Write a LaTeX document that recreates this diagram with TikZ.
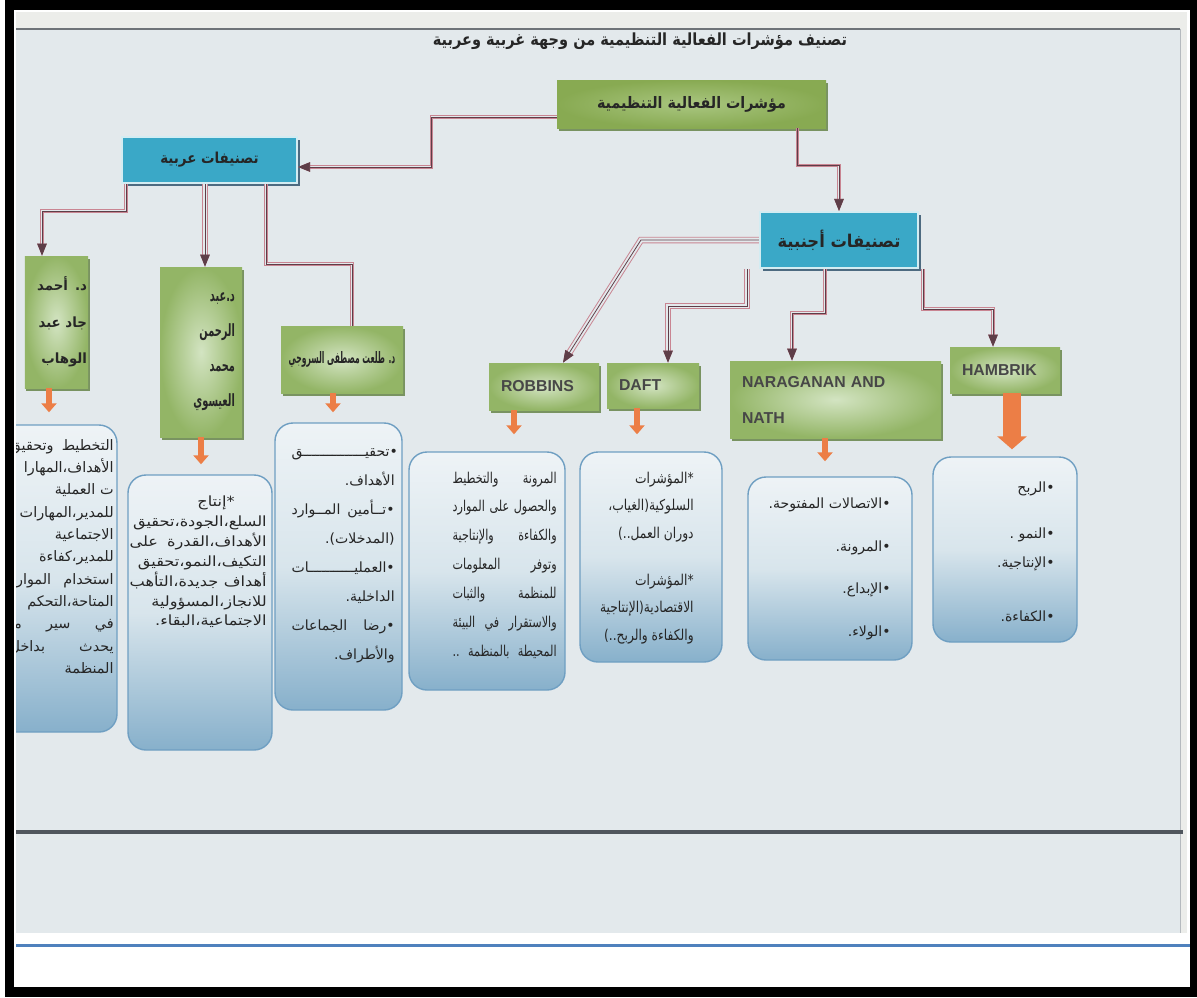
\documentclass[tikz,border=0pt]{standalone}
\usepackage{fontspec}
\setmainfont{Liberation Sans}
\newfontfamily\arabicfont[Script=Arabic]{DejaVu Sans}
\TeXXeTstate=1
\usepackage{tikz}
\usetikzlibrary{positioning, arrows.meta, shadows, calc}
\definecolor{cPage}{HTML}{E3E9EC}
\definecolor{cBand}{HTML}{ECEDEA}
\definecolor{cScanLine}{HTML}{6E7378}
\definecolor{cScanEdge}{HTML}{B5BABE}
\definecolor{cRule}{HTML}{50565D}
\definecolor{cBlueRule}{HTML}{4F81BD}
\definecolor{cInk}{HTML}{262626}
\definecolor{cGreenIn}{HTML}{D3E4C2}
\definecolor{cGreenOut}{HTML}{93B566}
\definecolor{cGreenShade}{HTML}{6E8A52}
\definecolor{cTopIn}{HTML}{A9C680}
\definecolor{cTopOut}{HTML}{88AA52}
\definecolor{cTeal}{HTML}{3AA8C7}
\definecolor{cTealBorder}{HTML}{D3ECF2}
\definecolor{cTealShade}{HTML}{4D6A80}
\definecolor{cBoxTop}{HTML}{EEF3F6}
\definecolor{cBoxMid}{HTML}{D8E5EC}
\definecolor{cBoxBot}{HTML}{87B0CB}
\definecolor{cBoxLine}{HTML}{6F9FC2}
\definecolor{cOrange}{HTML}{EC7E46}
\definecolor{cLink}{HTML}{C98592}
\definecolor{cLinkDark}{HTML}{5E3E48}
% right-to-left line, font is set by the node
\newcommand{\artxt}[1]{\beginR #1\endR}
% justified right-to-left line, as wide as the node text
\newcommand{\jl}[1]{\leavevmode\hbox to \linewidth{\spaceskip=.3em plus 1fil\beginR #1\endR}}
% arabic font: size, baselineskip, horizontal stretch
\newcommand{\arfont}[3]{\arabicfont\addfontfeatures{FakeStretch=#3}\fontsize{#1}{#2}\selectfont}
\newcommand{\arbfont}[3]{\arabicfont\bfseries\addfontfeatures{FakeStretch=#3}\fontsize{#1}{#2}\selectfont}
\tikzset{
  greenbox/.style={inner color=cGreenIn, outer color=cGreenOut, text=cInk,
    drop shadow={shadow xshift=0.3mm, shadow yshift=-0.5mm, fill=cGreenShade, opacity=0.9}},
  topbox/.style={greenbox, inner color=cTopIn, outer color=cTopOut},
  latinbox/.style={greenbox, align=left, inner xsep=2.4mm,
    font=\bfseries\fontsize{9}{20.5}\selectfont, text=cInk!85},
  tealbox/.style={fill=cTeal, draw=cTealBorder, line width=1.2pt, text=cInk,
    drop shadow={shadow xshift=0.6mm, shadow yshift=-0.6mm, fill=cTealShade, opacity=1}},
  contentbox/.style={rounded corners=3.6mm, draw=cBoxLine, line width=0.8pt,
    top color=cBoxTop, bottom color=cBoxBot, middle color=cBoxMid, inner sep=0pt},
  bodytext/.style={align=right, inner sep=0pt, anchor=east, text=cInk},
  linkthin/.style={draw=cLink, double=cPage, double distance=0.9pt, line width=0.55pt,
    postaction={draw=cLinkDark, line width=0.45pt},
    -{Triangle[length=2.4mm, width=1.9mm]}},
  linkwide/.style={linkthin, double distance=2.6pt},
  fatarrow/.style={draw=cOrange, line width=1.2mm, -{Triangle[length=1.8mm, width=3mm]}},
  bigarrow/.style={draw=cOrange, line width=3.6mm, -{Triangle[length=2.6mm, width=5.8mm]}}
}
\begin{document}
\begin{tikzpicture}[x=0.2mm, y=-0.2mm]
\useasboundingbox (0,0) rectangle (1197,997);
% frame and scanned sheet
\fill[white] (0,0) rectangle (1197,997);
\fill[black] (5,0) rectangle (1197,997);
\fill[white] (14,10) rectangle (1190,987);
\fill[cPage] (16,12) rectangle (1187,933);
\fill[cBand] (16,12) rectangle (1187,28);
\fill[cBand] (1180,28) rectangle (1187,933);
\draw[cScanLine, line width=0.3mm] (16,29) -- (1180,29);
\draw[cScanEdge, line width=0.2mm] (1180,29) -- (1180,933);
\draw[cRule, line width=0.9mm] (16,832) -- (1183,832);
\draw[cBlueRule, line width=0.6mm] (16,945) -- (1190,945);
\begin{scope}
\clip (16,12) rectangle (1180,830);
\node[font=\arbfont{9.5}{12}{0.87}, text=cInk] (title) at (640,41)
  {\artxt{تصنيف مؤشرات الفعالية التنظيمية من وجهة غربية وعربية}};
% heads
\node[topbox, minimum width=53.8mm, minimum height=9.6mm, font=\arbfont{9}{11}{0.9}] (top) at (691.5,104) {\artxt{مؤشرات الفعالية التنظيمية}};
\node[tealbox, minimum width=35mm, minimum height=9.2mm, font=\arbfont{8.6}{10}{0.89}] (arabic) at (209.5,160) {\artxt{تصنيفات عربية}};
\node[tealbox, minimum width=31.6mm, minimum height=11.2mm, font=\arbfont{10}{12}{0.93}] (foreign) at (839,240) {\artxt{تصنيفات أجنبية}};
% arabic authors
\node[greenbox, minimum width=12.6mm, minimum height=26.4mm, text width=12.2mm, inner xsep=0.2mm, align=right, font=\arbfont{8}{20.8}{0.95}] (ahmad) at (56.5,322)
  {\artxt{د. أحمد}\\\artxt{جاد عبد}\\\artxt{الوهاب}};
\node[greenbox, minimum width=16.4mm, minimum height=34mm, text width=13.6mm, inner xsep=1.4mm, align=right, font=\arbfont{9.6}{19.9}{0.58}] (abd) at (201,352)
  {\artxt{د.عبد}\\\artxt{الرحمن}\\\artxt{محمد}\\\artxt{العيسوي}};
\node[greenbox, minimum width=24.4mm, minimum height=13.4mm, font=\arbfont{9}{10}{0.48}] (talaat) at (342,359.5)
  {\artxt{د. طلعت مصطفى السروجي}};
% foreign authors
\node[latinbox, minimum width=22mm, minimum height=9.4mm, text width=17.2mm] (robbins) at (544,386.5) {ROBBINS};
\node[latinbox, minimum width=18.4mm, minimum height=9mm, text width=13.6mm] (daft) at (653,385.5) {DAFT};
\node[latinbox, minimum width=42.2mm, minimum height=15.4mm, text width=37.4mm] (nara) at (835.5,399.5) {NARAGANAN AND\\NATH};
\node[latinbox, minimum width=22mm, minimum height=9.2mm, text width=17.2mm] (hambrik) at (1005,370) {HAMBRIK};
% content boxes
\node[contentbox, minimum width=27.4mm, minimum height=61.4mm] (ahmadlist) at (48.5,578.5) {};
\node[bodytext, text width=20.8mm, font=\arfont{8.2}{12.7pt}{1}] (ahmadtxt) at (114,556.5) {\jl{التخطيط وتحقيق}\\\artxt{الأهداف،المهارا}\\\artxt{ت العملية}\\\artxt{للمدير،المهارات}\\\artxt{الاجتماعية}\\\artxt{للمدير،كفاءة}\\\jl{استخدام الموارد}\\\artxt{المتاحة،التحكم}\\\jl{في سير ما}\\\jl{يحدث بداخل}\\\artxt{المنظمة}};
\node[contentbox, minimum width=28.8mm, minimum height=55mm] (abdlist) at (200,612.5) {};
\node[bodytext, text width=27.4mm, font=\arfont{8}{11.3pt}{1.15}] (abdtxt) at (267,562) {\artxt{\hspace*{6.4mm}*إنتاج}\\\artxt{السلع،الجودة،تحقيق}\\\jl{الأهداف،القدرة على}\\\artxt{التكيف،النمو،تحقيق}\\\jl{أهداف جديدة،التأهب}\\\artxt{للانجاز،المسؤولية}\\\artxt{الاجتماعية،البقاء.}};
\node[contentbox, minimum width=25.4mm, minimum height=57.4mm] (talaatlist) at (338.5,566.5) {};
\node[bodytext, text width=20.6mm, font=\arfont{8}{16.5pt}{1}] (talaattxt) at (395,556) {\artxt{•تحقيـــــــــــــــق}\\\artxt{الأهداف.}\\\jl{•تــأمين المــوارد}\\\artxt{(المدخلات).}\\\artxt{•العمليـــــــــــات}\\\artxt{الداخلية.}\\\jl{•رضا الجماعات}\\\artxt{والأطراف.}};
\node[contentbox, minimum width=31.2mm, minimum height=47.6mm] (roblist) at (487,571) {};
\node[bodytext, text width=20.8mm, font=\arfont{8.5}{16.4pt}{0.75}] (robtxt) at (557,565) {\jl{المرونة والتخطيط}\\\jl{والحصول على الموارد}\\\jl{والكفاءة والإنتاجية}\\\jl{وتوفر المعلومات}\\\jl{للمنظمة والثبات}\\\jl{والاستقرار في البيئة}\\\jl{المحيطة بالمنظمة ..}};
\node[contentbox, minimum width=28.4mm, minimum height=42mm] (daftlist) at (651,557) {};
\node[bodytext, font=\arfont{8.5}{15.6pt}{0.82}] (dafttxt) at (694,558) {\artxt{*المؤشرات}\\\artxt{السلوكية(الغياب،}\\\artxt{دوران العمل..)}\\[3.9mm]\artxt{*المؤشرات}\\\artxt{الاقتصادية(الإنتاجية}\\\artxt{والكفاءة والربح..)}};
\node[contentbox, minimum width=32.8mm, minimum height=36.6mm] (naralist) at (830,568.5) {};
\node[bodytext, font=\arfont{8}{24.3pt}{1}] (naratxt) at (891,569) {\artxt{•الاتصالات المفتوحة.}\\\artxt{•المرونة.}\\\artxt{•الإبداع.}\\\artxt{•الولاء.}};
\node[contentbox, minimum width=28.8mm, minimum height=37mm] (hamlist) at (1005,549.5) {};
\node[bodytext, font=\arfont{8}{16.5pt}{1}] (hamtxt) at (1055,551.5) {\artxt{•الربح}\\[3.4mm]\artxt{•النمو .}\\\artxt{•الإنتاجية.}\\[5mm]\artxt{•الكفاءة.}};
% links
\draw[linkthin] ([yshift=-2.6mm]top.west) -- ++(-125,0) |- ([yshift=-1.4mm]arabic.east);
\draw[linkthin] ([xshift=-5.8mm]top.south east) -- ++(0,37) -| (foreign.north);
\draw[linkthin] ([xshift=1mm]arabic.south west) -- ++(0,27) -| ([xshift=-2.9mm]ahmad.north);
\draw[linkwide] ([xshift=0.8mm]abd.north |- arabic.south) -- ([xshift=0.8mm]abd.north);
\draw[linkthin, -] ([xshift=-6.4mm]arabic.south east) -- ++(0,80) -| ([xshift=2mm]talaat.north);
\draw[linkwide] (foreign.west) -- ++(-118,0) -- ([xshift=3.8mm]robbins.north);
\draw[linkwide] ([xshift=-2.4mm]foreign.south west) -- ++(0,37) -| ([xshift=3mm]daft.north);
\draw[linkthin] ([xshift=-2.8mm]foreign.south) -- ++(0,44) -| ([xshift=-8.7mm]nara.north);
\draw[linkthin] ([xshift=0.8mm]foreign.south east) -- ++(0,40) -| ([xshift=-2.4mm]hambrik.north);
% orange arrows
\draw[fatarrow, shorten >=2.4mm] ([xshift=-1.5mm]ahmad.south) -- ([xshift=-1.5mm]ahmad.south |- ahmadlist.north);
\draw[fatarrow, shorten >=2mm] (abd.south) -- (abd.south |- abdlist.north);
\draw[fatarrow, shorten >=2mm] ([xshift=-1.8mm]talaat.south) -- ([xshift=-1.8mm]talaat.south |- talaatlist.north);
\draw[fatarrow, shorten >=3.4mm] ([xshift=-6mm]robbins.south) -- ([xshift=-6mm]robbins.south |- roblist.north);
\draw[fatarrow, shorten >=3.4mm] ([xshift=-3.2mm]daft.south) -- ([xshift=-3.2mm]daft.south |- daftlist.north);
\draw[fatarrow, shorten >=3mm] ([xshift=-2.1mm]nara.south) -- ([xshift=-2.1mm]nara.south |- naralist.north);
\draw[bigarrow, shorten >=1.4mm] ([xshift=1.4mm]hambrik.south) -- ([xshift=1.4mm]hambrik.south |- hamlist.north);
\end{scope}
\end{tikzpicture}
\end{document}
